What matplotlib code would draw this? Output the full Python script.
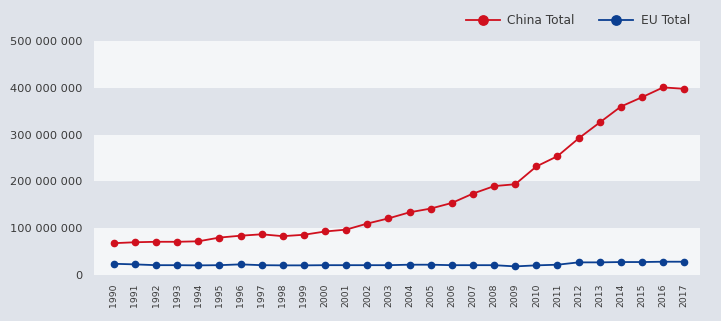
import matplotlib.pyplot as plt
from matplotlib.ticker import FuncFormatter

# Years and series values
years = list(range(1990, 2018))
china_total = [68e6, 70e6, 71e6, 71e6, 72e6, 80e6, 84e6, 87e6, 83e6, 86e6,
               93e6, 97e6, 110e6, 121e6, 134e6, 142e6, 154e6, 174e6, 190e6, 194e6,
               232e6, 254e6, 292e6, 326e6, 360e6, 380e6, 401e6, 398e6]
eu_total = [24e6, 22.7e6, 21e6, 21e6, 20.6e6, 21e6, 22.7e6, 21e6, 20.6e6, 20.6e6,
            21e6, 21e6, 21e6, 21e6, 22e6, 22e6, 21e6, 21e6, 21e6, 18.4e6,
            20.6e6, 22e6, 27e6, 27e6, 27.7e6, 27.7e6, 28.4e6, 28.4e6]
y_ticks = [0, 100e6, 200e6, 300e6, 400e6, 500e6]

bg = '#dfe3ea'
band = '#f4f6f8'
red = '#d0101e'
blue = '#0b3f91'
text_col = '#3a3a3a'

fig = plt.figure(figsize=(7.21, 3.21), dpi=100, facecolor=bg)
ax = fig.add_axes([0.130, 0.1433, 0.841, 0.7287])
ax.set_facecolor(bg)

# alternating light bands
for lo in (0, 200e6, 400e6):
    ax.axhspan(lo, lo + 100e6, color=band, zorder=0, lw=0)

x = list(range(len(years)))
ax.plot(x, china_total, color=red, lw=1.3, marker='o', ms=4.5, label='China Total', zorder=3)
ax.plot(x, eu_total, color=blue, lw=1.3, marker='o', ms=4.5, label='EU Total', zorder=3)

ax.set_xlim(-0.95, 27.75)
ax.set_ylim(0, 500e6)
ax.set_yticks(y_ticks)
ax.yaxis.set_major_formatter(FuncFormatter(lambda v, p: f'{int(v):,}'.replace(',', ' ')))
ax.set_xticks(x)
ax.set_xticklabels([str(y) for y in years], rotation=90)

ax.tick_params(axis='y', length=0, pad=8, labelsize=8.2, labelcolor=text_col)
ax.tick_params(axis='x', length=0, pad=6, labelsize=6.7, labelcolor=text_col)
for s in ax.spines.values():
    s.set_visible(False)

leg = fig.legend(loc='upper right', bbox_to_anchor=(0.972, 0.99), ncol=2, frameon=False,
                 prop={'size': 8.8}, handlelength=2.8, columnspacing=2.0,
                 handletextpad=0.6, markerscale=1.5)
for t in leg.get_texts():
    t.set_color(text_col)

fig.savefig('out.png', dpi=100, facecolor=bg)
